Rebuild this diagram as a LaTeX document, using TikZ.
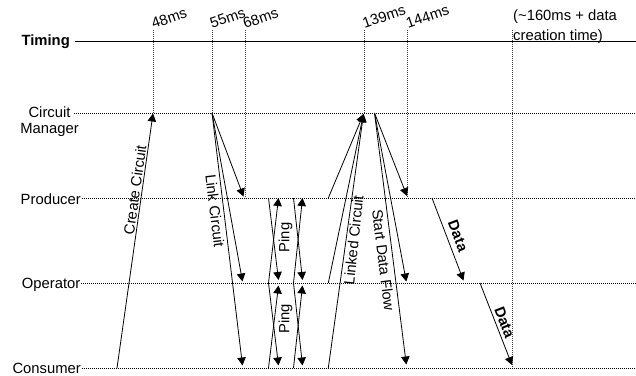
\documentclass[tikz,border=0pt]{standalone}
\usepackage{fontspec}
\setmainfont{Liberation Sans}
\usetikzlibrary{arrows.meta}
\begin{document}
\begin{tikzpicture}[x=1pt,y=-1pt,
  txt/.style={font=\fontsize{14.8}{16.6}\selectfont, inner sep=0pt},
  boldtxt/.style={font=\fontsize{14.8}{16.6}\selectfont\bfseries, inner sep=0pt},
  lane/.style={line width=0.7pt, dash pattern=on 0.7pt off 1.3pt},
  tick/.style={line width=0.7pt, dash pattern=on 0.7pt off 1.3pt, black!75},
  msg/.style={line width=0.8pt, -{Triangle[length=8pt,width=8.5pt]}},
  mslabel/.style={txt, rotate=19, anchor=base west}]
\useasboundingbox (0,0) rectangle (636,375);

% ---- lane labels ----
\node[boldtxt, anchor=base east] (timing) at (70,45.8) {Timing};
% base of a multi-line node is the baseline of its last line
\node[txt, align=center, anchor=base] (cmlab) at (49.5,133.9) {Circuit\\Manager};
\node[txt, anchor=base east] (prodlab) at (81,204) {Producer};
\node[txt, anchor=base east] (oplab) at (80.5,288.8) {Operator};
\node[txt, anchor=base east] (conslab) at (81,373.3) {Consumer};

% ---- lanes ----
\coordinate (tl0) at (75,41);   \coordinate (tl1) at (636,41);
\coordinate (cm0) at (74,113);  \coordinate (cm1) at (636,113);
\coordinate (pr0) at (81.5,198); \coordinate (pr1) at (636,198);
\coordinate (op0) at (81,283);  \coordinate (op1) at (636,283);
\coordinate (co0) at (81.5,368); \coordinate (co1) at (636,368);
\draw[line width=1pt] (tl0) -- (tl1);
\draw[lane] (cm0) -- (cm1);
\draw[lane] (pr0) -- (pr1);
\draw[lane] (op0) -- (op1);
\draw[lane] (co0) -- (co1);

% ---- time marks ----
\foreach \x/\y in {153/113, 212/113, 245/198, 364/113, 407/198, 512.5/368}
  \draw[tick] (\x,30) -- (\x,\y);
\node[mslabel] (t48) at (153.5,29) {48ms};
\node[mslabel] (t55) at (212,28.5) {55ms};
\node[mslabel] (t68) at (245,29) {68ms};
\node[mslabel] (t139) at (364.5,28.5) {139ms};
\node[mslabel] (t144) at (408,28.5) {144ms};
\node[txt, font=\fontsize{14.8}{20.5}\selectfont, align=left, anchor=base west] (t160)
  at (513,40.5) {(\textasciitilde160ms + data\\creation time)};

% ---- Create Circuit ----
\coordinate (cc0) at (117,368); \coordinate (cc1) at (153,113.5);
\draw[msg] (cc0) -- (cc1);
\node[txt, rotate=82] (lcc) at (135,190) {Create Circuit};

% ---- Link Circuit ----
\coordinate (lk) at (212,113);
\coordinate (lkp) at (243.5,196.5);
\coordinate (lko) at (242.5,281.5);
\coordinate (lkc) at (242.5,365.5);
\draw[msg] (lk) -- (lkp);
\draw[msg] (lk) -- (lko);
\draw[msg] (lk) -- (lkc);
\node[txt, rotate=-83] (llk) at (215,211) {Link Circuit};

% ---- Ping ----
\foreach \a/\b in {268.5/278.5, 293.5/302.5} {
  \draw[msg] (\a,198) -- (\b,280);
  \draw[msg] (\a,283) -- (\b,198);
  \draw[msg] (\a,283) -- (\b,365.5);
  \draw[msg] (\a,368) -- (\b,285.5);
}
\node[txt, rotate=90] (lp1) at (285.5,237.5) {Ping};
\node[txt, rotate=90] (lp2) at (285.5,319) {Ping};

% ---- Linked Circuit ----
\coordinate (ld) at (363.5,114);
\coordinate (ldp) at (328.3,198);
\coordinate (ldo) at (328.3,283);
\coordinate (ldc) at (328.3,368);
\draw[msg] (ldp) -- (ld);
\draw[msg] (ldo) -- (ld);
\draw[msg] (ldc) -- (ld);
\node[txt, rotate=84] (lld) at (353.5,240) {Linked Circuit};

% ---- Start Data Flow ----
\coordinate (sd) at (374.5,113);
\coordinate (sdp) at (407,196);
\coordinate (sdo) at (406.3,281.5);
\coordinate (sdc) at (406.3,364.5);
\draw[msg] (sd) -- (sdp);
\draw[msg] (sd) -- (sdo);
\draw[msg] (sd) -- (sdc);
\node[txt, rotate=-83] (lsd) at (383.5,260) {Start Data Flow};

% ---- Data ----
\coordinate (dp) at (432,198);  \coordinate (do) at (463.5,280.5);
\coordinate (dq) at (480,283);  \coordinate (dc) at (512,365);
\draw[msg] (dp) -- (do);
\draw[msg] (dq) -- (dc);
\node[boldtxt, rotate=-69] (ld1) at (458,236) {Data};
\node[boldtxt, rotate=-69] (ld2) at (504.5,322.5) {Data};
\end{tikzpicture}
\end{document}
